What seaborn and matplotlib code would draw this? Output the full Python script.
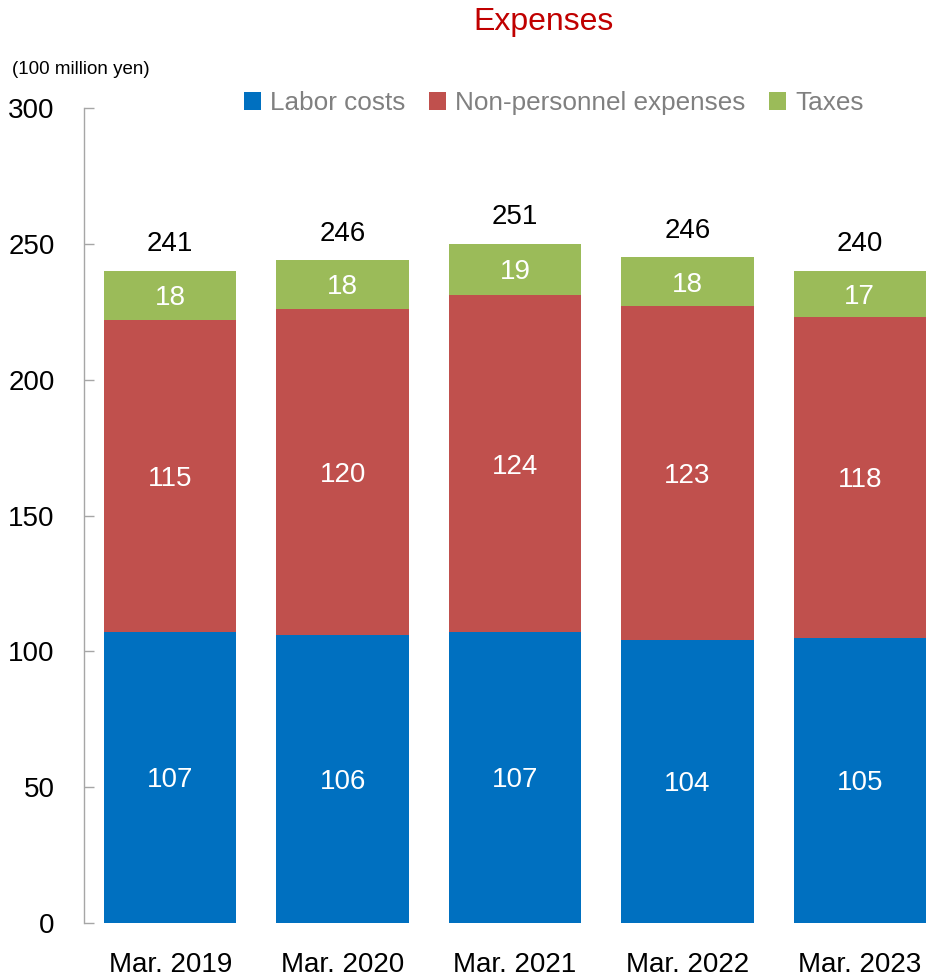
import matplotlib
matplotlib.use("Agg")
import matplotlib.pyplot as plt
import seaborn as sns
import pandas as pd
import numpy as np
from matplotlib.patches import Patch

categories = ["Mar. 2019", "Mar. 2020", "Mar. 2021", "Mar. 2022", "Mar. 2023"]
labor = [107, 106, 107, 104, 105]
nonpersonnel = [115, 120, 124, 123, 118]
taxes = [18, 18, 19, 18, 17]
totals = [241, 246, 251, 246, 240]
series_names = ["Labor costs", "Non-personnel expenses", "Taxes"]
colors = ["#0070C0", "#C0504D", "#9BBB59"]

sns.set_style("white")
plt.rcParams["font.family"] = ["Liberation Sans Narrow", "Liberation Sans", "DejaVu Sans"]

df = pd.DataFrame({"cat": categories, "labor": labor, "nonp": nonpersonnel, "tax": taxes})
df["c1"] = df["labor"]
df["c2"] = df["labor"] + df["nonp"]
df["c3"] = df["c2"] + df["tax"]

fig = plt.figure(figsize=(9.39, 9.77), dpi=100)
ax = fig.add_axes([84/939, (977-923)/977, (946-84)/939, (923-108)/977])

width = 132/172
sns.barplot(data=df, x="cat", y="c3", color=colors[2], width=width, saturation=1, ax=ax, linewidth=0)
sns.barplot(data=df, x="cat", y="c2", color=colors[1], width=width, saturation=1, ax=ax, linewidth=0)
sns.barplot(data=df, x="cat", y="c1", color=colors[0], width=width, saturation=1, ax=ax, linewidth=0)

ax.set_ylim(0, 300)
ax.set_xlim(-0.5, 4.5)
ax.set_yticks([0, 50, 100, 150, 200, 250, 300])
ax.set_xlabel("")
ax.set_ylabel("")
for s in ["top", "right", "bottom"]:
    ax.spines[s].set_visible(False)
ax.spines["left"].set_color("#A6A6A6")
ax.spines["left"].set_linewidth(1.0)
ax.tick_params(axis="y", direction="in", length=7, width=1.0, color="#A6A6A6",
               pad=21, labelsize=20, labelcolor="black", left=True)
ax.tick_params(axis="x", length=0, pad=21, labelsize=20, labelcolor="black")

fs = 20
for i in range(len(categories)):
    ax.text(i, labor[i] / 2 - 1, str(labor[i]), ha="center", va="center", color="white", fontsize=fs)
    ax.text(i, labor[i] + nonpersonnel[i] / 2 - 1, str(nonpersonnel[i]), ha="center", va="center", color="white", fontsize=fs)
    ax.text(i, labor[i] + nonpersonnel[i] + taxes[i] / 2 - 1, str(taxes[i]), ha="center", va="center", color="white", fontsize=fs)
    ax.text(i, labor[i] + nonpersonnel[i] + taxes[i] + 5, str(totals[i]), ha="center", va="bottom", color="black", fontsize=fs)

handles = [Patch(facecolor=c, edgecolor="none") for c in colors]
leg = fig.legend(handles, series_names, loc="center left", bbox_to_anchor=(244/939, 1 - 103/977),
                 ncol=3, frameon=False, fontsize=18.8, handlelength=0.65, handleheight=0.65,
                 handletextpad=0.35, columnspacing=0.9, borderaxespad=0, borderpad=0)
for t in leg.get_texts():
    t.set_color("#808080")

fig.text(543/939, 1 - 22/977, "Expenses", ha="center", va="center", color="#C00000", fontsize=23)
fig.text(12/939, 1 - 70/977, "(100 million yen)", ha="left", va="center", color="black", fontsize=13.5)

fig.savefig("out.png", dpi=100)
